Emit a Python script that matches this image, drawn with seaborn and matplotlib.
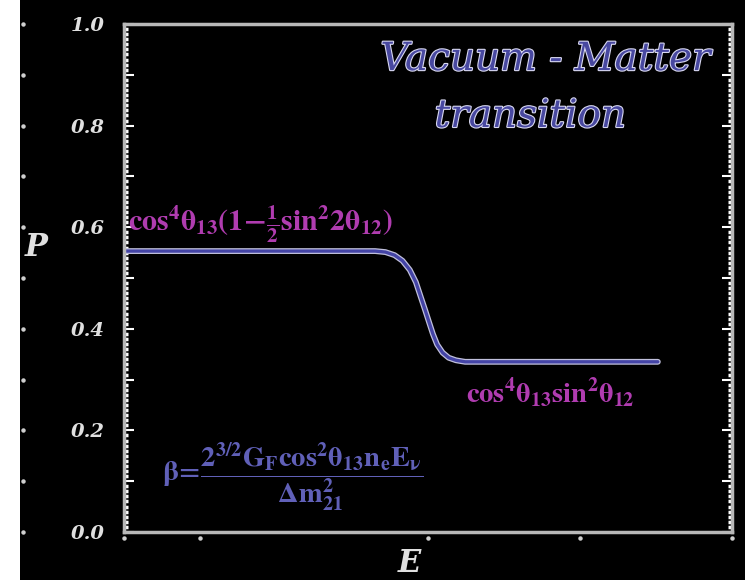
import numpy as np
import pandas as pd
import seaborn as sns
import matplotlib.pyplot as plt
import matplotlib.patheffects as pe
from matplotlib.patches import Rectangle
from matplotlib.ticker import MultipleLocator

# curve (E in arbitrary units, P probability)
energy = [0.0, 4.13, 4.30, 4.45, 4.58, 4.70, 4.80, 4.88, 4.95, 5.02, 5.08, 5.15, 5.24, 5.34, 5.46, 5.61, 8.78]
prob = [0.553, 0.553, 0.551, 0.545, 0.534, 0.516, 0.492, 0.463, 0.438, 0.412, 0.390, 0.369, 0.353, 0.343, 0.338, 0.335, 0.335]

y_ticks = [0.0, 0.1, 0.2, 0.3, 0.4, 0.5, 0.6, 0.7, 0.8, 0.9, 1.0]
y_labels = ['0.0', '', '0.2', '', '0.4', '', '0.6', '', '0.8', '', '1.0']
x_dots = [0.0, 1.25, 5.0, 7.5, 10.0]

df = pd.DataFrame({'E': energy, 'P': prob})

sns.set_style('ticks')
plt.rcParams['mathtext.fontset'] = 'stix'
plt.rcParams['font.family'] = ['DejaVu Serif', 'Liberation Serif']

fig = plt.figure(figsize=(7.45, 5.8), dpi=100, facecolor='black')
fig.patches.append(Rectangle((0, 0), 20 / 745, 1, transform=fig.transFigure,
                             facecolor='white', edgecolor='none', zorder=-1))
ax = fig.add_axes([0.1664, 0.0828, 0.8162, 0.8758])
ax.set_facecolor('black')

line_fx = [pe.Stroke(linewidth=4.2, foreground='#c0c0dc'), pe.Normal()]
sns.lineplot(data=df, x='E', y='P', sort=False, color='#4444a6', linewidth=2.4,
             ax=ax, path_effects=line_fx)

ax.set_xlim(0, 10)
ax.set_ylim(0, 1)

for s in ax.spines.values():
    s.set_color('#b8b8b8')
    s.set_linewidth(2.5)

# y axis ticks (left) and squares (right)
ax.set_yticks(y_ticks)
ax.set_yticklabels(y_labels)
ax.yaxis.set_minor_locator(MultipleLocator(0.01))
ax.tick_params(axis='y', which='major', direction='in', length=7, width=1.5,
               color='white', left=True, right=True, labelsize=14,
               labelcolor='#e0e0e0', pad=14)
ax.tick_params(axis='y', which='minor', direction='in', length=3, width=2.5,
               color='white', left=True, right=True)
for lab in ax.get_yticklabels():
    lab.set_fontstyle('italic')
    lab.set_fontweight('bold')
ax.set_xticks([])

# dots beneath the x axis and left of the tick labels
ax.plot(x_dots, [-0.012] * len(x_dots), 'o', color='#d0d0d0', markersize=2.2,
        clip_on=False)
ax.plot([-0.166] * len(y_ticks), y_ticks, 'o', color='#d0d0d0', markersize=2.2,
        clip_on=False, transform=ax.get_yaxis_transform())

ax.set_xlabel('E', fontsize=22, fontstyle='italic', fontweight='bold', color='#e0e0e0')
ax.xaxis.set_label_coords(0.47, -0.032)
ax.set_ylabel('P', fontsize=22, fontstyle='italic', fontweight='bold', color='#e0e0e0',
              rotation=0)
ax.yaxis.set_label_coords(-0.145, 0.53)

title_fx = [pe.Stroke(linewidth=1.6, foreground='#d8d8f0'), pe.Normal()]
ax.text(0.693, 0.93, 'Vacuum - Matter', transform=ax.transAxes, ha='center',
        va='center', fontsize=28, fontstyle='italic', color='#4848a0',
        path_effects=title_fx)
ax.text(0.668, 0.818, 'transition', transform=ax.transAxes, ha='center',
        va='center', fontsize=28, fontstyle='italic', color='#4848a0',
        path_effects=title_fx)

mag = '#b03cb0'
ax.text(0.006, 0.605, r'$\mathbf{cos^4\theta_{13}(1\!-\!\frac{1}{2}sin^2 2\theta_{12})}$',
        transform=ax.transAxes, ha='left', va='center', fontsize=21.5, color=mag)
ax.text(0.563, 0.275, r'$\mathbf{cos^4\theta_{13}sin^2\theta_{12}}$',
        transform=ax.transAxes, ha='left', va='center', fontsize=20.5, color=mag)
ax.text(0.063, 0.108,
        r'$\mathbf{\beta\!=\!\dfrac{2^{3/2}G_F cos^2\theta_{13} n_e E_\nu}{\Delta m^2_{21}}}$',
        transform=ax.transAxes, ha='left', va='center', fontsize=20.5, color='#6060b8')

fig.savefig('out.png', dpi=100, facecolor=fig.get_facecolor())
